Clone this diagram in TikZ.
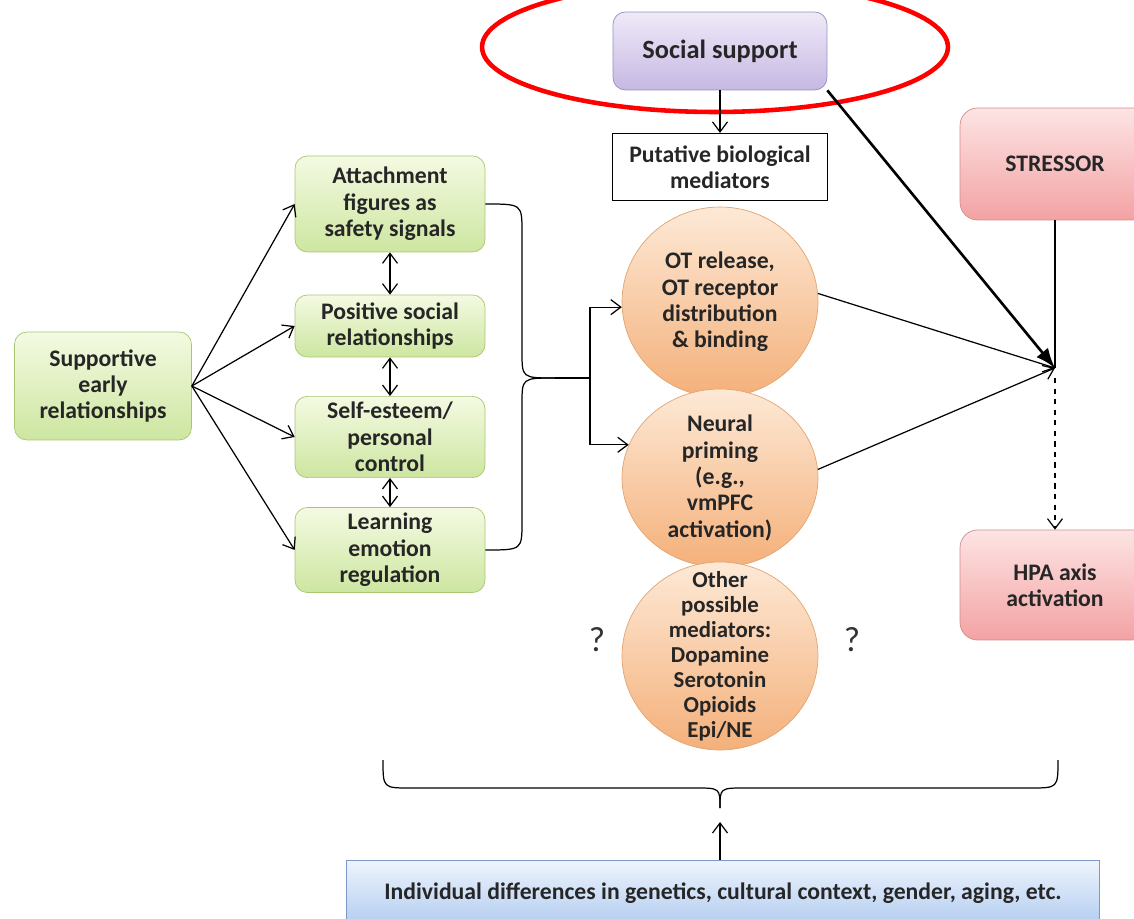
\documentclass[tikz,border=0pt]{standalone}
\usepackage{fontspec}
\setmainfont{Carlito}
\usetikzlibrary{arrows.meta,shapes.geometric}
\definecolor{greentop}{HTML}{F4FAE2}
\definecolor{greenbot}{HTML}{CDE6A0}
\definecolor{greenline}{HTML}{A7C772}
\definecolor{liltop}{HTML}{EFEAF8}
\definecolor{lilbot}{HTML}{C6B8E3}
\definecolor{lilline}{HTML}{9A8CBE}
\definecolor{pinktop}{HTML}{FDE4E4}
\definecolor{pinkbot}{HTML}{F3A2A3}
\definecolor{pinkline}{HTML}{D58C8C}
\definecolor{orangetop}{HTML}{FDE9D6}
\definecolor{orangebot}{HTML}{F4B07A}
\definecolor{orangeline}{HTML}{E2A46F}
\definecolor{bluetop}{HTML}{EEF4FD}
\definecolor{bluebot}{HTML}{B2CCF0}
\definecolor{blueline}{HTML}{7B98C6}
\begin{document}
\begin{tikzpicture}[x=0.02cm, y=-0.02cm]
    \tikzset{txt/.style = {align=center, text=black!85, font=\fontsize{13.5}{15}\selectfont\bfseries}}
    \tikzset{greenbox/.style = {txt, draw=greenline, rounded corners=7pt, top color=greentop, bottom color=greenbot, minimum width=3.8cm}}
    \tikzset{pinkbox/.style = {txt, draw=pinkline, rounded corners=10pt, top color=pinktop, bottom color=pinkbot, minimum width=3.8cm, minimum height=2.2cm}}
    \tikzset{blob/.style = {txt, ellipse, draw=orangeline, top color=orangetop, bottom color=orangebot, minimum width=3.92cm, inner sep=-20pt}}
    \tikzset{edge/.style = {-{Straight Barb[length=2mm,width=3mm]}, line width=0.7pt}}
    \tikzset{twoway/.style = {{Straight Barb[length=2mm,width=3mm]}-{Straight Barb[length=2mm,width=3mm]}, line width=0.7pt}}
    \useasboundingbox (0,0) rectangle (1134,919);
    % left column
    \node[greenbox, minimum width=3.54cm, minimum height=2.16cm] (early) at (103,386) {Supportive\\early\\relationships};
    \node[greenbox, minimum height=1.92cm] (att) at (390,204) {Attachment\\figures as\\safety signals};
    \node[greenbox, minimum height=1.24cm] (pos) at (390,326) {Positive social\\relationships};
    \node[greenbox, minimum height=1.56cm] (self) at (390,437) {Self-esteem/\\personal\\control};
    \node[greenbox, minimum height=1.52cm] (learn) at (390,550) {Learning\\emotion\\regulation};
    % middle column
    \node[txt, draw=lilline, rounded corners=7pt, top color=liltop, bottom color=lilbot, minimum width=4.28cm, minimum height=1.56cm, font=\fontsize{15}{16}\selectfont\bfseries] (social) at (720,51) {Social support};
    \node[draw=red, line width=2.6pt, ellipse, minimum width=9.32cm, minimum height=2.6cm] (ring) at (715,47) {};
    \node[txt, draw, line width=0.7pt, minimum width=4.3cm, minimum height=1.34cm] (putative) at (720,167) {Putative biological\\mediators};
    \node[blob, minimum height=3.8cm] (ot) at (720,302) {OT release,\\OT receptor\\distribution\\\& binding};
    \node[blob, minimum height=3.56cm] (neural) at (720,478) {Neural\\priming\\(e.g.,\\vmPFC\\activation)};
    \node[blob, minimum height=3.76cm, font=\fontsize{13}{14.2}\selectfont\bfseries] (other) at (720,656) {Other\\possible\\mediators:\\Dopamine\\Serotonin\\Opioids\\Epi/NE};
    \node[font=\fontsize{20}{20}\selectfont, text=black!80] (qleft) at (597,640) {?};
    \node[font=\fontsize{20}{20}\selectfont, text=black!80] (qright) at (852,640) {?};
    % right column
    \node[pinkbox, minimum height=2.24cm] (stressor) at (1055,164) {STRESSOR};
    \node[pinkbox] (hpa) at (1055,585) {HPA axis\\activation};
    \node[txt, draw=blueline, top color=bluetop, bottom color=bluebot, minimum width=15.06cm, minimum height=1.32cm] (indiv) at (723,893) {Individual differences in genetics, cultural context, gender, aging, etc.};
    \coordinate (btip) at (555,378);
    \coordinate (fork) at (590,378);
    \coordinate (junc) at (1055,368);
    \coordinate (below) at (1055,378);
    \coordinate (ltop) at (383,760);
    \coordinate (rtop) at (1058,760);
    \coordinate (dtip) at (720,808);
    \coordinate (up) at (720,822);
    % connectors
    \foreach \b in {att,pos,self,learn}
        \draw[edge] (early.east) -- (\b.west);
    \draw[twoway] (att) -- (pos);
    \draw[twoway] (pos) -- (self);
    \draw[twoway] (self) -- (learn);
    \draw[line width=0.7pt] (att.east) .. controls (522,204) .. (522,232) -- (522,352) .. controls (522,378) .. (btip);
    \draw[line width=0.7pt] (learn.east) .. controls (522,550) .. (522,522) -- (522,404) .. controls (522,378) .. (btip);
    \draw[line width=0.7pt] (btip) -- (fork);
    \draw[edge] (fork) |- (ot.183);
    \draw[edge] (fork) |- (neural.160);
    \draw[edge] (social) -- (putative);
    \draw[edge] (ot.5) -- (junc);
    \draw[edge] (neural.5) -- (junc);
    \draw[-{Latex[length=4mm,width=3mm]}, line width=1.5pt] (social.south east) -- (junc);
    \draw[line width=0.7pt] (stressor) -- (junc);
    \draw[edge, dashed] (below) -- (hpa);
    \draw[line width=0.7pt] (ltop) .. controls (383,788) .. (410,788) -- (695,788) .. controls (720,788) .. (dtip);
    \draw[line width=0.7pt] (rtop) .. controls (1058,788) .. (1030,788) -- (745,788) .. controls (720,788) .. (dtip);
    \draw[edge] (indiv.north -| up) -- (up);
\end{tikzpicture}
\end{document}
